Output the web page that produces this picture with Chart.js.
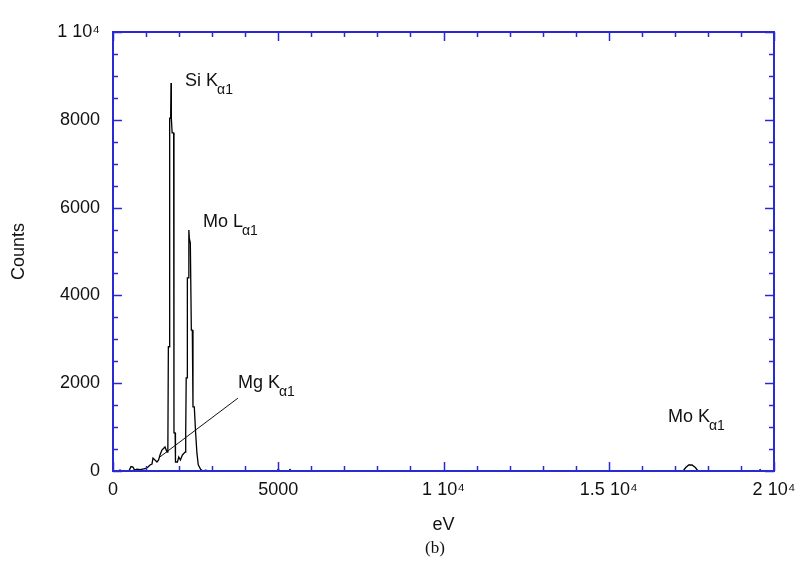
<!DOCTYPE html>
<html>

<head>
  <title>EDX spectrum (b)</title>
  <script type="text/javascript" src="https://cdn.jsdelivr.net/npm/chart.js"></script>
  <style>
    body { margin: 0; background: #ffffff; }
    #chart-container { width: 798px; height: 567px; }
  </style>
</head>

<body>

  <div id="chart-container">
    <canvas id="spectrum-chart" width="798" height="567"></canvas>
  </div>

  <script type="text/javascript">
    // spectrum (energy in eV, counts)
    const energyEv = [
      0, 150, 212, 260, 480, 545, 605, 650, 720, 820, 900, 1000, 1060, 1120, 1180,
      1210, 1330, 1380, 1422, 1480, 1573, 1634, 1660, 1675, 1710, 1715, 1745, 1755,
      1765, 1790, 1835, 1845, 1880, 1890, 1950, 1990, 2040, 2100, 2180, 2200, 2215,
      2240, 2250, 2280, 2295, 2310, 2340, 2360, 2370, 2400, 2420, 2460, 2500, 2540,
      2580, 2650, 2720, 2800, 2900, 4960, 5000, 5040, 5320, 5355, 5390, 17250, 17330,
      17420, 17520, 17620, 17700, 19540, 19580, 19620, 20000
    ];
    const counts = [
      0, 0, 25, 0, 0, 100, 90, 20, 40, 30, 45, 60, 90, 137, 160,
      296, 205, 250, 365, 478, 547, 432, 520, 2830, 2830, 8040, 8040, 8838,
      8040, 7700, 7700, 870, 870, 205, 205, 320, 250, 365, 430, 870, 2120,
      2120, 4400, 4400, 5490, 5300, 5190, 5190, 3210, 3210, 1460, 1460, 870, 400,
      140, 40, 0, 20, 0, 0, 40, 0, 0, 35, 0, 0, 80,
      137, 137, 80, 0, 0, 30, 0, 0
    ];

    const xTickLabels = {0: '0', 5000: '5000', 10000: '1 10\u2074', 15000: '1.5 10\u2074', 20000: '2 10\u2074'};
    const yTickLabels = {0: '0', 2000: '2000', 4000: '4000', 6000: '6000', 8000: '8000', 10000: '1 10\u2074'};

    // peak labels, anchored in data coordinates (eV, counts)
    const peakNames = ['Si K', 'Mo L', 'Mg K', 'Mo K'];
    const peakSubs = ['\u03b11', '\u03b11', '\u03b11', '\u03b11'];
    const peakLabelEv = [2180, 2720, 3780, 16790];
    const peakLabelCounts = [8770, 5560, 1890, 1116];
    // leader line for Mg K alpha
    const mgLeaderEv = [1420, 3780];
    const mgLeaderCounts = [320, 1660];

    const frameBlue = '#2a2ad2';
    const sansFont = '"Liberation Sans", Arial, sans-serif';

    const points = energyEv.map((e, i) => ({x: e, y: counts[i]}));

    const frameAndTicks = {
        id: 'frameAndTicks',
        afterDatasetsDraw(chart) {
            const ctx = chart.ctx;
            const a = chart.chartArea;
            const xs = chart.scales.x;
            const ys = chart.scales.y;
            ctx.save();
            ctx.strokeStyle = frameBlue;
            ctx.lineWidth = 1.5;
            ctx.beginPath();
            for (let v = 0; v <= 20000; v += 1000) {
                const px = Math.round(xs.getPixelForValue(v)) + 0.5;
                const len = v % 5000 === 0 ? 9 : 5;
                ctx.moveTo(px, a.bottom); ctx.lineTo(px, a.bottom - len);
                ctx.moveTo(px, a.top); ctx.lineTo(px, a.top + len);
            }
            for (let v = 0; v <= 10000; v += 500) {
                const py = Math.round(ys.getPixelForValue(v)) + 0.5;
                const len = v % 2000 === 0 ? 9 : 5;
                ctx.moveTo(a.left, py); ctx.lineTo(a.left + len, py);
                ctx.moveTo(a.right, py); ctx.lineTo(a.right - len, py);
            }
            ctx.stroke();
            ctx.lineWidth = 2;
            ctx.strokeRect(a.left, a.top, a.right - a.left, a.bottom - a.top);

            // peak labels
            ctx.fillStyle = '#111111';
            ctx.textBaseline = 'alphabetic';
            ctx.textAlign = 'left';
            for (let i = 0; i < peakNames.length; i++) {
                const px = xs.getPixelForValue(peakLabelEv[i]);
                const py = ys.getPixelForValue(peakLabelCounts[i]);
                ctx.font = '18px ' + sansFont;
                ctx.fillText(peakNames[i], px, py);
                const w = ctx.measureText(peakNames[i]).width;
                ctx.font = '14px ' + sansFont;
                ctx.fillText(peakSubs[i], px + w - 1, py + 8);
            }

            // Mg leader line
            ctx.strokeStyle = '#111111';
            ctx.lineWidth = 1;
            ctx.beginPath();
            ctx.moveTo(xs.getPixelForValue(mgLeaderEv[0]), ys.getPixelForValue(mgLeaderCounts[0]));
            ctx.lineTo(xs.getPixelForValue(mgLeaderEv[1]), ys.getPixelForValue(mgLeaderCounts[1]));
            ctx.stroke();

            // panel tag
            ctx.font = '17px "Liberation Serif", "Times New Roman", serif';
            ctx.textAlign = 'center';
            ctx.textBaseline = 'middle';
            ctx.fillText('(b)', 435, 549);
            ctx.restore();
        }
    };

    window.onload = function() {
        const ctx = document.getElementById('spectrum-chart');
        new Chart(ctx, {
            type: 'line',
            data: {
                datasets: [{
                    label: 'spectrum',
                    data: points,
                    borderColor: '#000000',
                    borderWidth: 1.3,
                    pointRadius: 0,
                    tension: 0,
                    fill: false
                }]
            },
            options: {
                responsive: false,
                animation: false,
                layout: {
                    padding: {left: 0, right: 24, top: 32, bottom: 0}
                },
                scales: {
                    x: {
                        type: 'linear',
                        min: 0,
                        max: 20000,
                        grid: {display: false, drawTicks: false},
                        border: {display: false},
                        ticks: {
                            stepSize: 5000,
                            padding: 8,
                            color: '#111111',
                            maxRotation: 0,
                            font: {family: sansFont, size: 18},
                            callback: v => xTickLabels[v]
                        },
                        title: {
                            display: true,
                            text: 'eV',
                            color: '#111111',
                            font: {family: sansFont, size: 18},
                            padding: {top: 0, bottom: 31}
                        },
                        afterFit: scale => {
                            scale.height = 96;
                            scale.paddingLeft = 0;
                            scale.paddingRight = 0;
                        }
                    },
                    y: {
                        min: 0,
                        max: 10000,
                        grid: {display: false, drawTicks: false},
                        border: {display: false},
                        ticks: {
                            stepSize: 2000,
                            padding: 13,
                            color: '#111111',
                            font: {family: sansFont, size: 18},
                            callback: v => yTickLabels[v]
                        },
                        title: {
                            display: true,
                            text: 'Counts',
                            color: '#111111',
                            font: {family: sansFont, size: 18},
                            padding: {top: 8, bottom: 0}
                        },
                        afterFit: scale => {
                            scale.width = 113;
                            scale.paddingTop = 0;
                            scale.paddingBottom = 0;
                        }
                    }
                },
                plugins: {
                    legend: {display: false},
                    tooltip: {enabled: false}
                }
            },
            plugins: [frameAndTicks]
        });
    };
  </script>

</body>

</html>
